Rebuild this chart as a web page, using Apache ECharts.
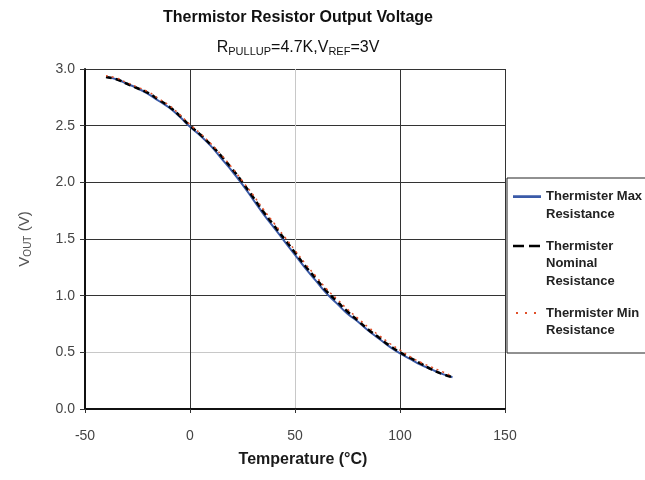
<!DOCTYPE html>
<html>
<head>
<meta charset="utf-8">
<script src="https://cdn.jsdelivr.net/npm/echarts@6/dist/echarts.min.js"></script>
<style>
  html, body { margin: 0; padding: 0; background: #fff; }
  #chart { width: 645px; height: 480px; }
</style>
</head>
<body>
<div id="chart"></div>
<script>
// temperature (°C)
const temps = [-40, -35, -30, -25, -20, -15, -10, -5, 0, 5, 10, 15, 20, 25, 30, 35, 40,
  45, 50, 55, 60, 65, 70, 75, 80, 85, 90, 95, 100, 105, 110, 115, 120, 125]

// Vout (V) per thermistor tolerance
const voutMax = [2.93, 2.91, 2.87, 2.83, 2.78, 2.72, 2.66, 2.58, 2.49, 2.41, 2.32, 2.21, 2.10, 1.98,
  1.85, 1.72, 1.60, 1.48, 1.36, 1.24, 1.13, 1.02, 0.93, 0.84, 0.77, 0.69, 0.62, 0.55, 0.49,
  0.44, 0.39, 0.35, 0.31, 0.28]
const voutNominal = [2.93, 2.91, 2.87, 2.83, 2.79, 2.73, 2.67, 2.59, 2.50, 2.42, 2.33, 2.23, 2.12, 2.00,
  1.87, 1.74, 1.62, 1.50, 1.38, 1.26, 1.15, 1.04, 0.95, 0.86, 0.78, 0.70, 0.63, 0.56, 0.50,
  0.45, 0.40, 0.35, 0.31, 0.28]
const voutMin = [2.94, 2.92, 2.88, 2.84, 2.80, 2.74, 2.68, 2.60, 2.51, 2.43, 2.34, 2.24, 2.13, 2.01,
  1.89, 1.76, 1.64, 1.52, 1.40, 1.28, 1.17, 1.06, 0.97, 0.88, 0.80, 0.72, 0.65, 0.58, 0.52,
  0.46, 0.41, 0.37, 0.33, 0.29]

const seriesNames = ['Thermister Max Resistance', 'Thermister Nominal Resistance', 'Thermister Min Resistance']
const legendLabels = ['Thermister Max\nResistance', 'Thermister\nNominal\nResistance', 'Thermister Min\nResistance']

const font = 'Liberation Sans, Arial, sans-serif'
const chart = echarts.init(document.getElementById('chart'))

const pairs = arr => temps.map((t, i) => [t, arr[i]])

// legend icons: 28 x 52.5 box, tiny corner anchors keep the box so the
// stroke sits on the first text line instead of the item centre
const anchors = 'M0,0h0.01v0.01h-0.01z M27.99,52.49h0.01v0.01h-0.01z '
const iconSolid = 'path://' + anchors + 'M0,16.3h28v2.6h-28z'
const iconDashed = 'path://' + anchors + 'M0,7.5h11v2.6h-11z M16,7.5h11v2.6h-11z'
const iconDotted = 'path://' + anchors + 'M3,16.5h2v2h-2z M12,16.5h2v2h-2z M21,16.5h2v2h-2z'

const option = {
  animation: false,
  backgroundColor: '#fff',
  textStyle: { fontFamily: font },
  title: {
    text: 'Thermistor Resistor Output Voltage',
    subtext: 'R{s|PULLUP}=4.7K,V{s|REF}=3V',
    left: 298,
    textAlign: 'center',
    top: 10,
    padding: 0,
    itemGap: 12,
    textStyle: { fontFamily: font, fontSize: 16, fontWeight: 'bold', color: '#111' },
    subtextStyle: {
      fontFamily: font, fontSize: 16, color: '#111',
      rich: { s: { fontFamily: font, fontSize: 11, color: '#111', padding: [8, 0, 0, 0] } }
    }
  },
  grid: { left: 85, right: 140, top: 69, bottom: 71 },
  legend: {
    orient: 'vertical',
    left: 507,
    top: 178,
    padding: [1, 20, 5, 6],
    itemGap: 5.75,
    itemWidth: 28,
    itemHeight: 52.5,
    backgroundColor: '#fff',
    borderColor: '#222',
    borderWidth: 1,
    borderRadius: 0,
    itemStyle: { borderWidth: 0 },
    formatter: name => legendLabels[seriesNames.indexOf(name)],
    textStyle: { fontFamily: font, fontSize: 13, fontWeight: 'bold', lineHeight: 17.5, color: '#222' },
    data: [
      { name: seriesNames[0], icon: iconSolid },
      { name: seriesNames[1], icon: iconDashed },
      { name: seriesNames[2], icon: iconDotted }
    ]
  },
  xAxis: {
    type: 'value',
    min: -50,
    max: 150,
    interval: 50,
    name: 'Temperature (°C)',
    nameLocation: 'middle',
    nameGap: 43,
    nameTextStyle: { fontFamily: font, fontSize: 16, fontWeight: 'bold', color: '#1a1a1a', padding: [0, 0, 0, 16] },
    axisLine: { show: true, onZero: false, lineStyle: { color: '#111', width: 2 } },
    axisTick: { show: true, length: 4, lineStyle: { color: '#333' } },
    axisLabel: { margin: 20, fontFamily: font, fontSize: 14, color: '#444' },
    splitLine: { show: true, lineStyle: { color: ['#333', '#333', '#c8c8c8', '#333', '#333'], width: 1 } }
  },
  yAxis: {
    type: 'value',
    min: 0,
    max: 3,
    interval: 0.5,
    name: 'V{s|OUT} (V)',
    nameLocation: 'middle',
    nameGap: 52,
    nameRotate: 90,
    nameTextStyle: {
      fontFamily: font, fontSize: 15, color: '#555',
      rich: { s: { fontFamily: font, fontSize: 10, color: '#555', padding: [7, 0, 0, 0] } }
    },
    axisLine: { show: true, onZero: false, lineStyle: { color: '#111', width: 2 } },
    axisTick: { show: true, length: 5, lineStyle: { color: '#333' } },
    axisLabel: { margin: 10, fontFamily: font, fontSize: 14, color: '#444', formatter: v => v.toFixed(1) },
    splitLine: { show: true, lineStyle: { color: ['#333', '#c8c8c8', '#333', '#333', '#333', '#333', '#333'], width: 1 } }
  },
  series: [
    {
      name: seriesNames[0],
      type: 'line',
      smooth: true,
      symbol: 'none',
      lineStyle: { color: '#3a5aa8', width: 2 },
      itemStyle: { color: '#3a5aa8' },
      data: pairs(voutMax)
    },
    {
      name: seriesNames[1],
      type: 'line',
      smooth: true,
      symbol: 'none',
      lineStyle: { color: '#000', width: 2.5, type: [6, 4] },
      itemStyle: { color: '#000' },
      data: pairs(voutNominal)
    },
    {
      name: seriesNames[2],
      type: 'line',
      smooth: true,
      symbol: 'none',
      lineStyle: { color: '#e0502a', width: 1.5, type: [2, 4] },
      itemStyle: { color: '#e0502a' },
      data: pairs(voutMin)
    }
  ]
}

chart.setOption(option)
</script>
</body>
</html>
